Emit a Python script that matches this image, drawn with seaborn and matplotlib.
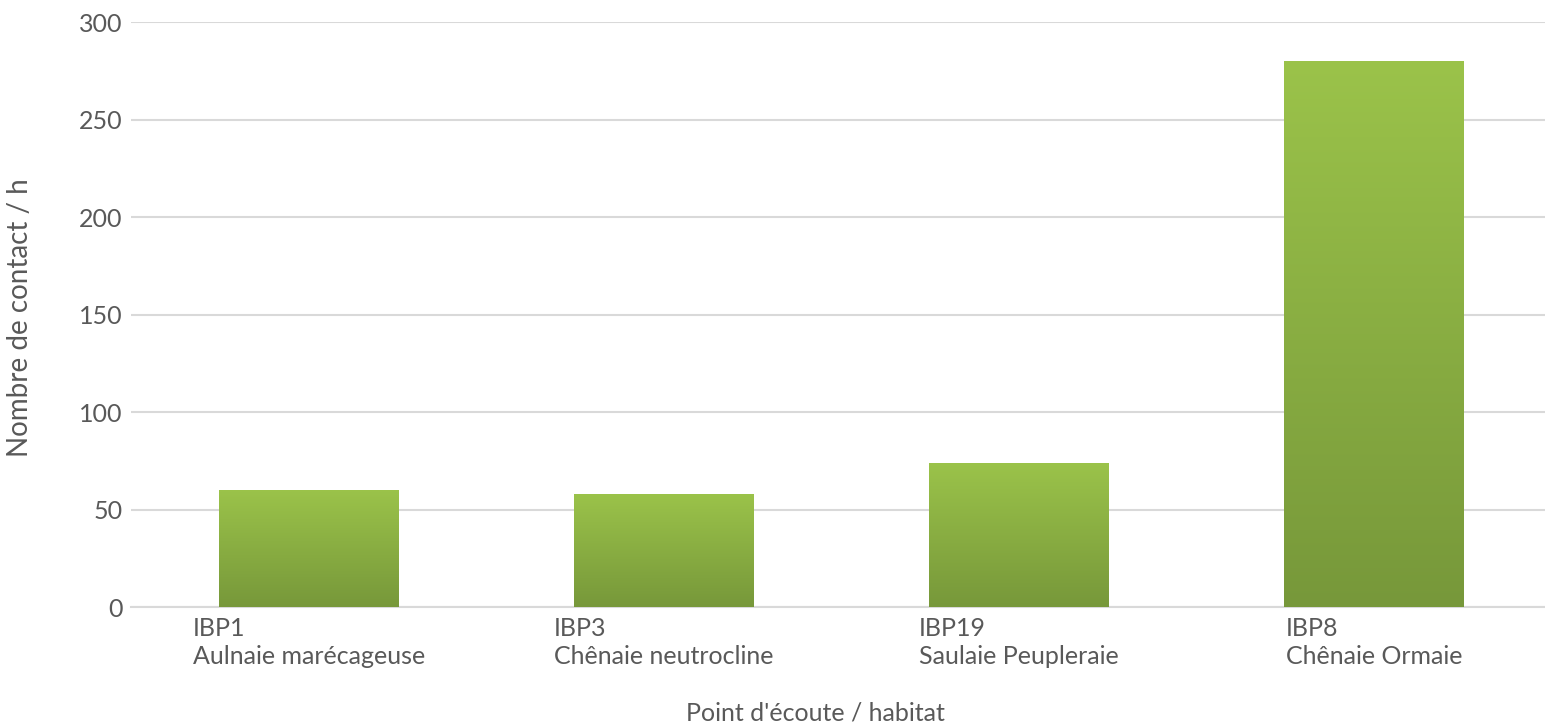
import numpy as np
import pandas as pd
import matplotlib
matplotlib.use('Agg')
import matplotlib.pyplot as plt
from matplotlib.colors import LinearSegmentedColormap
import seaborn as sns

# Data
points = ['IBP1', 'IBP3', 'IBP19', 'IBP8']
habitats = ['Aulnaie marécageuse', 'Chênaie neutrocline', 'Saulaie Peupleraie', 'Chênaie Ormaie']
contacts = [60, 58, 74, 280]

labels = [f'{p}\n{h}' for p, h in zip(points, habitats)]
df = pd.DataFrame({'label': labels, 'contacts': contacts})

sns.set_style('white')
plt.rcParams['font.family'] = ['Lato', 'DejaVu Sans']

text_col = '#595959'
grid_col = '#D9D9D9'

fig = plt.figure(figsize=(15.45, 7.27), dpi=100)
ax = fig.add_axes([0.0848, 0.165, 0.9197, 0.8047])

sns.barplot(data=df, x='label', y='contacts', color='#8BB043', width=0.506,
            saturation=1, ax=ax, zorder=3)

# vertical gradient fill on each bar (light top, darker bottom)
cmap = LinearSegmentedColormap.from_list('grn', ['#77983A', '#9BC34A'])
grad = np.linspace(0, 1, 256).reshape(-1, 1)
for bar in ax.patches:
    x0, y0 = bar.get_x(), bar.get_y()
    w, h = bar.get_width(), bar.get_height()
    bar.set_facecolor('none')
    bar.set_edgecolor('none')
    im = ax.imshow(grad, cmap=cmap, origin='lower', aspect='auto',
                   extent=[x0, x0 + w, y0, y0 + h], zorder=3)
    im.set_clip_path(bar)

ax.set_xlim(-0.5, 3.5)
ax.set_ylim(0, 300)
ax.set_yticks(range(0, 301, 50))
ax.yaxis.grid(True, color=grid_col, linewidth=1.5, zorder=0)
ax.set_axisbelow(True)
for side in ['top', 'right', 'left']:
    ax.spines[side].set_visible(False)
ax.spines['bottom'].set_color(grid_col)
ax.spines['bottom'].set_linewidth(1.5)

ax.tick_params(axis='both', length=0, labelsize=18, labelcolor=text_col)
ax.tick_params(axis='x', pad=7)
ax.tick_params(axis='y', pad=6)
for t in ax.get_xticklabels():
    t.set_multialignment('left')
    t.set_linespacing(1.3)

ax.set_xlabel("Point d'écoute / habitat", fontsize=18, color=text_col)
ax.xaxis.set_label_coords(0.482, -0.162)
ax.set_ylabel('Nombre de contact / h', fontsize=20, color=text_col)
ax.yaxis.set_label_coords(-0.069, 0.494)

fig.savefig('out.png', dpi=100, facecolor='white')
